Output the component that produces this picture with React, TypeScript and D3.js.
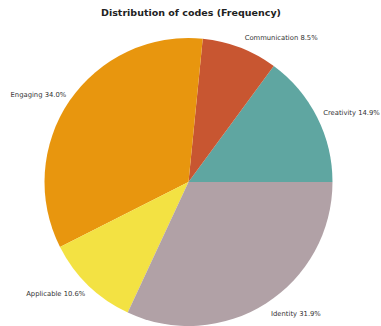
import React from "react";
import * as d3 from "d3";

const categories = ["Creativity", "Communication", "Engaging", "Applicable", "Identity"];
const values = [14.9, 8.5, 34.0, 10.6, 31.9];
const colors = ["#5fa6a1", "#c85631", "#e8960e", "#f3e243", "#b1a1a6"];
const title = "Distribution of codes (Frequency)";

export default function App() {
  const W = 381, H = 326;
  const cx = 188.5, cy = 182, r = 144, lrx = 147, lry = 155;
  const data = categories.map((c, i) => ({ c, v: values[i], col: colors[i] }));
  // start at 3 o'clock going counter-clockwise
  const pie = d3.pie<any>().value((d) => d.v).sort(null)
    .startAngle(Math.PI / 2).endAngle(Math.PI / 2 - 2 * Math.PI);
  const arcs = pie(data);
  const arc = d3.arc<any>().innerRadius(0).outerRadius(r);
  return (
    <svg width={W} height={H} style={{ position: "absolute", left: 0, top: 0, background: "#fff" }}>
      <text x={191} y={13} textAnchor="middle" dominantBaseline="middle"
        fontFamily="'DejaVu Sans', Verdana, sans-serif" fontWeight="bold" fontSize={9.5} fill="#222">{title}</text>
      <g transform={`translate(${cx},${cy})`}>
        {arcs.map((a, i) => (
          <path key={i} d={arc(a) as string} fill={a.data.col} />
        ))}
        {arcs.map((a, i) => {
          const m = (a.startAngle + a.endAngle) / 2;
          const right = Math.sin(m) >= 0;
          const x = Math.sin(m) * lrx + (right ? 3.5 : -1);
          const y = -Math.cos(m) * lry + 1;
          return (
            <text key={"t" + i} x={x} y={y} textAnchor={right ? "start" : "end"} dominantBaseline="middle"
              fontFamily="'DejaVu Sans', Verdana, sans-serif" fontSize={6.8} fill="#333">
              {a.data.c + "  " + a.data.v.toFixed(1) + "%"}
            </text>
          );
        })}
      </g>
    </svg>
  );
}
